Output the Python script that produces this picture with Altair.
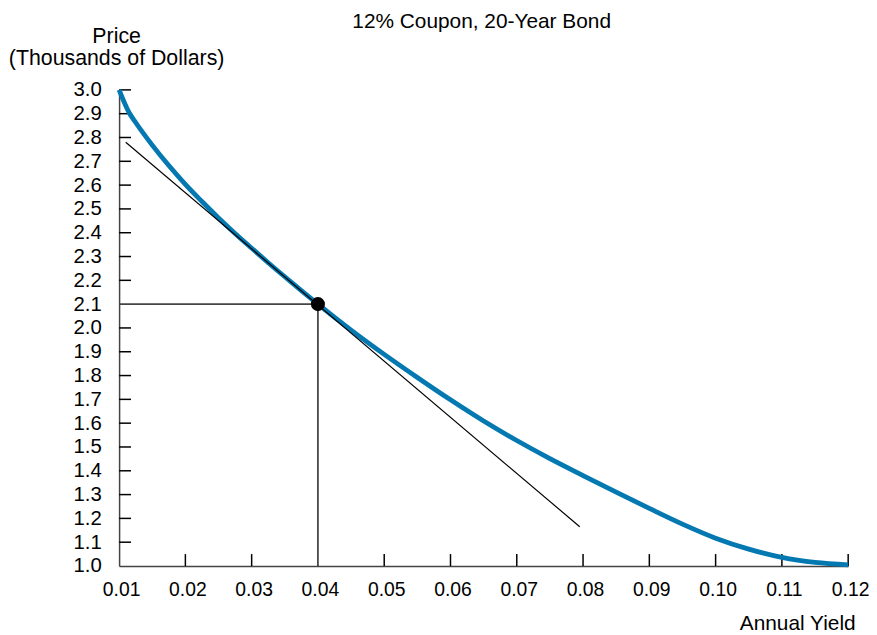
import altair as alt
import pandas as pd

# Curve (annual yield -> price in thousands of dollars)
curve_x = [0.010, 0.0115, 0.0125, 0.015, 0.0175, 0.020, 0.0225, 0.025, 0.0275, 0.030,
           0.0325, 0.035, 0.0375, 0.040, 0.045, 0.050, 0.055, 0.060, 0.065, 0.070,
           0.075, 0.080, 0.085, 0.090, 0.095, 0.100, 0.105, 0.110, 0.115, 0.120]
curve_y = [3.000, 2.905, 2.863, 2.768, 2.682, 2.603, 2.531, 2.462, 2.397, 2.335,
           2.274, 2.215, 2.157, 2.100, 1.991, 1.889, 1.792, 1.698, 1.609, 1.527,
           1.451, 1.380, 1.310, 1.242, 1.176, 1.117, 1.071, 1.036, 1.015, 1.005]

# Tangent line end points
tangent_x = [0.011, 0.0795]
tangent_y = [2.78, 1.165]

# Highlighted point
point_x = [0.04]
point_y = [2.1]

# Tick values
x_ticks = [0.01, 0.02, 0.03, 0.04, 0.05, 0.06, 0.07, 0.08, 0.09, 0.10, 0.11, 0.12]
y_ticks = [1.0, 1.1, 1.2, 1.3, 1.4, 1.5, 1.6, 1.7, 1.8, 1.9, 2.0,
           2.1, 2.2, 2.3, 2.4, 2.5, 2.6, 2.7, 2.8, 2.9, 3.0]
x_inner_ticks = [0.02, 0.03, 0.05, 0.06, 0.07, 0.08, 0.09, 0.10, 0.11, 0.12]
y_inner_ticks = [1.1, 1.2, 1.3, 1.4, 1.5, 1.6, 1.7, 1.8, 1.9, 2.0,
                 2.2, 2.3, 2.4, 2.5, 2.6, 2.7, 2.8, 2.9, 3.0]

W, H = 735, 480
FONT = "Liberation Sans"

curve_df = pd.DataFrame({"x": curve_x, "y": curve_y})
tangent_df = pd.DataFrame({"x": tangent_x, "y": tangent_y})
point_df = pd.DataFrame({"x": point_x, "y": point_y})
hline_df = pd.DataFrame({"x": [x_ticks[0]], "x2": point_x, "y": point_y})
vline_df = pd.DataFrame({"x": point_x, "y": [y_ticks[0]], "y2": point_y})
xt_df = pd.DataFrame({"x": x_inner_ticks})
yt_df = pd.DataFrame({"y": y_inner_ticks})

xscale = alt.Scale(domain=[0.01, 0.12], nice=False, zero=False)
yscale = alt.Scale(domain=[1.0, 3.0], nice=False, zero=False)

x_axis = alt.Axis(
    values=x_ticks, format=".2f", ticks=False, tickSize=0, grid=False,
    labelFont=FONT, labelFontSize=19.5, labelColor="black", labelPadding=15,
    labelOffset=2, labelFlush=False, labelOverlap=False,
    domainColor="#444444", domainWidth=1.5,
    title="Annual Yield", titleFont=FONT, titleFontSize=21, titleFontWeight="normal",
    titleColor="black", titleAnchor="end", titleAlign="right", titleX=W + 7,
    titleY=64, titleBaseline="alphabetic",
)
y_axis = alt.Axis(
    values=y_ticks, format=".1f", ticks=False, tickSize=0, grid=False,
    labelFont=FONT, labelFontSize=20.5, labelColor="black", labelPadding=18,
    labelFlush=False, labelOverlap=False,
    domainColor="#444444", domainWidth=1.5,
    title=["Price", "(Thousands of Dollars)"], titleFont=FONT, titleFontSize=21.5,
    titleFontWeight="normal", titleColor="black", titleAngle=0, titleAlign="center",
    titleBaseline="alphabetic", titleX=-3, titleY=-48, titleLineHeight=22,
)

X = alt.X("x:Q", scale=xscale, axis=x_axis)
Y = alt.Y("y:Q", scale=yscale, axis=y_axis)

curve = alt.Chart(curve_df).mark_line(
    color="#0478b0", strokeWidth=4.8, interpolate="monotone"
).encode(x=X, y=Y)

tangent = alt.Chart(tangent_df).mark_line(color="black", strokeWidth=1.2).encode(x=X, y=Y)

hline = alt.Chart(hline_df).mark_rule(color="#444444", strokeWidth=1.6).encode(
    x=X, x2="x2:Q", y=Y
)
vline = alt.Chart(vline_df).mark_rule(color="black", strokeWidth=1.3).encode(
    x=X, y=Y, y2="y2:Q"
)

xticks_layer = alt.Chart(xt_df).mark_rule(color="black", strokeWidth=1.5).encode(
    x=X, y=alt.value(H), y2=alt.value(H - 12)
)
yticks_layer = alt.Chart(yt_df).mark_rule(color="black", strokeWidth=1.5).encode(
    y=Y, x=alt.value(0), x2=alt.value(12)
)

point = alt.Chart(point_df).mark_circle(color="black", opacity=1, size=200).encode(x=X, y=Y)

chart = alt.layer(
    xticks_layer, yticks_layer, hline, vline, curve, tangent, point
).properties(
    width=W, height=H,
    title=alt.TitleParams(
        "12% Coupon, 20-Year Bond", font=FONT, fontSize=21, fontWeight="normal",
        color="black", anchor="middle", dx=-2, offset=-7,
    ),
    autosize=alt.AutoSizeParams(type="none"),
    padding={"left": 112, "top": 80, "right": 21, "bottom": 66},
).configure(background="white").configure_view(strokeWidth=0)

chart.save("out.html", embed_options={"renderer": "svg", "actions": False})
